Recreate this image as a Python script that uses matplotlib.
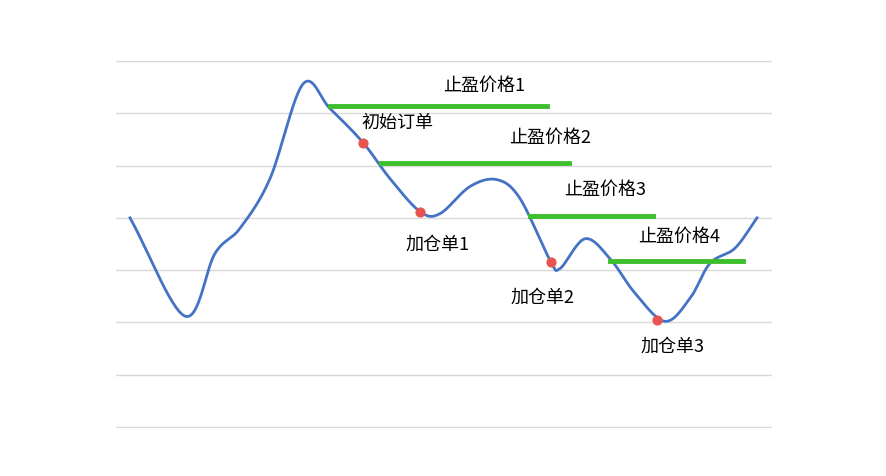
import numpy as np
import matplotlib
matplotlib.use("Agg")
import matplotlib.pyplot as plt
plt.rcParams['font.family'] = ['Noto Sans CJK SC', 'DejaVu Sans']

# price curve key points (x, price)
px = [14, 69, 99, 124, 154, 187, 214, 247, 274, 304, 324, 354, 381, 404, 434, 444, 469, 494, 519, 549, 574, 594, 619, 641]
py = [4.0, 2.12, 3.32, 3.8, 4.75, 6.56, 6.09, 5.44, 4.75, 4.12, 4.08, 4.6, 4.73, 4.37, 3.19, 3.03, 3.6, 3.22, 2.56, 2.02, 2.46, 3.13, 3.42, 4.0]
# take-profit levels
tp_x0 = [214, 265, 414, 494]
tp_x1 = [431, 453, 537, 627]
tp_y = [6.13, 5.04, 4.03, 3.17]
tp_labels = ["止盈价格1", "止盈价格2", "止盈价格3", "止盈价格4"]
tp_lx = [368, 434, 489, 563]
tp_ly = [6.55, 5.55, 4.55, 3.65]
# orders
ord_x = [247, 304, 435, 541]
ord_y = [5.44, 4.12, 3.16, 2.04]
ord_labels = ["初始订单", "加仓单1", "加仓单2", "加仓单3"]
ord_lx = [281, 322, 427, 557]
ord_ly = [5.84, 3.5, 2.5, 1.55]

def catmull(x, y, n=30):
    x = np.asarray(x, float); y = np.asarray(y, float)
    X = np.concatenate([[2*x[0]-x[1]], x, [2*x[-1]-x[-2]]])
    Y = np.concatenate([[2*y[0]-y[1]], y, [2*y[-1]-y[-2]]])
    ox, oy = [], []
    t = np.linspace(0, 1, n, endpoint=False)
    for i in range(1, len(X)-2):
        for A, out in ((X, ox), (Y, oy)):
            p0, p1, p2, p3 = A[i-1], A[i], A[i+1], A[i+2]
            out.extend(0.5*((2*p1) + (-p0+p2)*t + (2*p0-5*p1+4*p2-p3)*t**2 + (-p0+3*p1-3*p2+p3)*t**3))
    ox.append(x[-1]); oy.append(y[-1])
    return ox, oy

fig = plt.figure(figsize=(8.87, 4.77), dpi=100)
ax = fig.add_axes([116/887, 48/477, 656/887, 367/477])
ax.set_xlim(0, 656); ax.set_ylim(-0.02, 7)
for s in ax.spines.values():
    s.set_visible(False)
ax.set_xticks([]); ax.set_yticks(range(8))
ax.tick_params(left=False, labelleft=False)
ax.grid(axis='y', color='#d9d9d9', lw=1)
ax.set_axisbelow(True)

cx, cy = catmull(px, py)
ax.plot(cx, cy, color='#4472c4', lw=2)
for x0, x1, y, lab, lx, ly in zip(tp_x0, tp_x1, tp_y, tp_labels, tp_lx, tp_ly):
    ax.plot([x0, x1], [y, y], color='#3cbf2c', lw=3.5)
    ax.text(lx, ly, lab, ha='center', va='center', fontsize=13)
ax.scatter(ord_x, ord_y, s=40, color='#e8534f', zorder=5)
for lab, lx, ly in zip(ord_labels, ord_lx, ord_ly):
    ax.text(lx, ly, lab, ha='center', va='center', fontsize=13)
fig.savefig("out.png", dpi=100)
